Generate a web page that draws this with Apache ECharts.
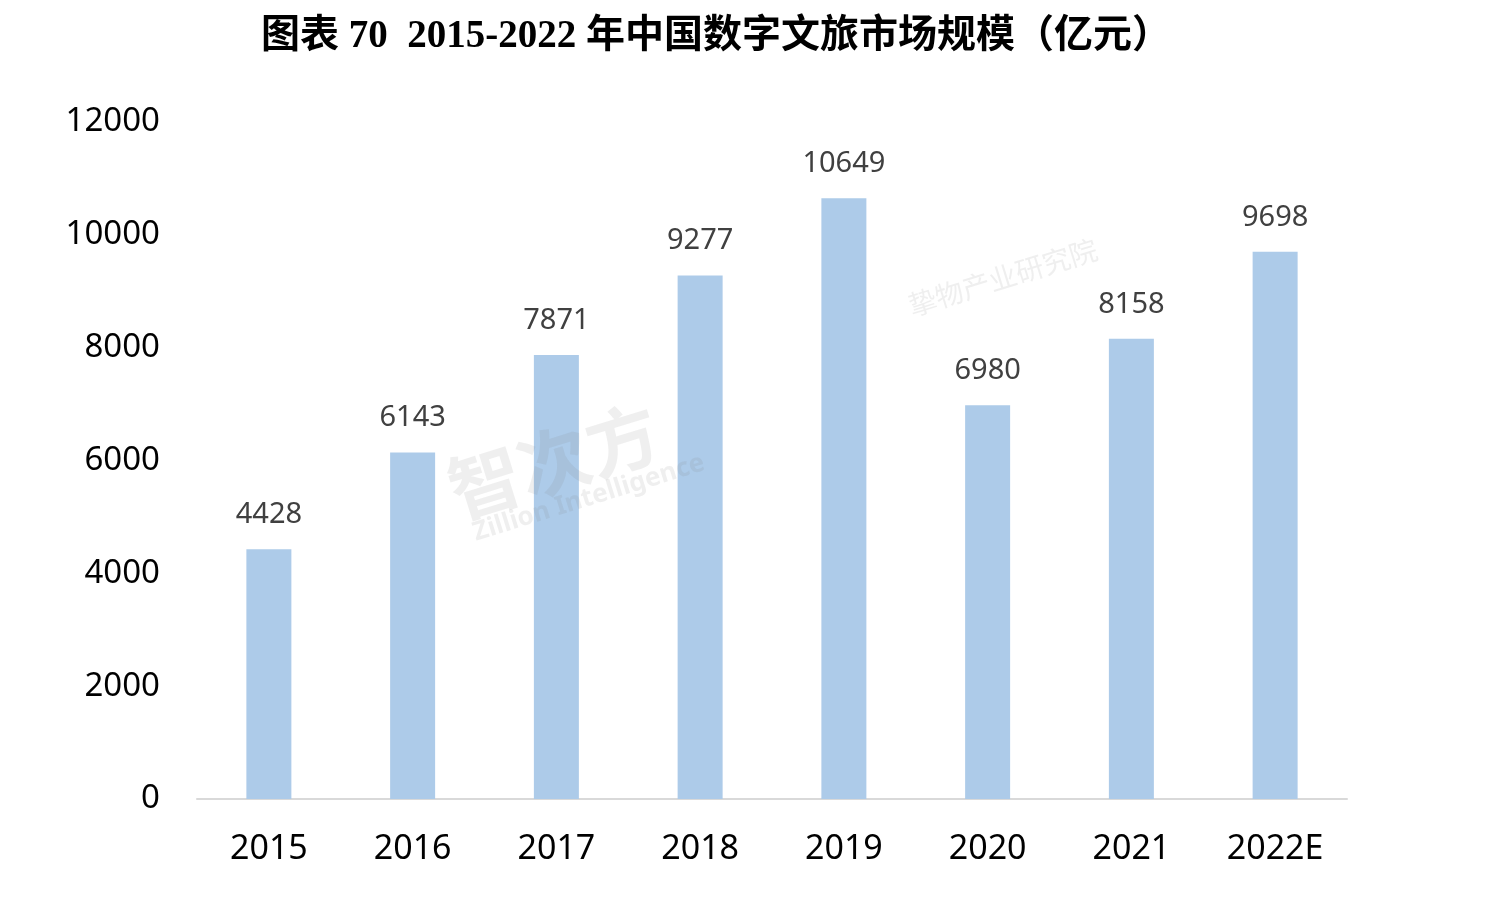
<!DOCTYPE html>
<html>
<head>
<meta charset="utf-8">
<script src="https://cdn.jsdelivr.net/npm/echarts@6/dist/echarts.min.js"></script>
<style>
html, body { margin: 0; padding: 0; background: #fff; }
#chart { width: 1502px; height: 912px; }
</style>
</head>
<body>
<div id="chart"></div>
<script>
// 年份与市场规模（亿元）
var years = ['2015', '2016', '2017', '2018', '2019', '2020', '2021', '2022E']
var marketSize = [4428, 6143, 7871, 9277, 10649, 6980, 8158, 9698]
var yTicks = { min: 0, max: 12000, interval: 2000 }

var myChart = echarts.init(document.getElementById('chart'))

myChart.setOption({
  backgroundColor: '#fff',
  animation: false,
  title: {
    text: '图表 70  2015-2022 年中国数字文旅市场规模（亿元）',
    left: 256,
    top: 12,
    textStyle: {
      fontFamily: '"Liberation Serif", "Noto Sans CJK SC"',
      fontWeight: 'bold',
      fontSize: 39,
      color: '#000'
    }
  },
  // 水印
  graphic: [
    {
      type: 'text', left: 440, top: 395, rotation: 0.3, z: 10,
      style: { text: '智次方', font: 'bold 72px "Noto Sans CJK SC"', fill: 'rgba(120,120,120,0.12)' }
    },
    {
      type: 'text', left: 470, top: 450, rotation: 0.3, z: 10,
      style: { text: 'Zillion Intelligence', font: 'bold 26px "Noto Sans"', fill: 'rgba(120,120,120,0.12)' }
    },
    {
      type: 'text', left: 905, top: 235, rotation: 0.3, z: 10,
      style: { text: '挚物产业研究院', font: '28px "Noto Sans CJK SC"', fill: 'rgba(120,120,120,0.12)' }
    }
  ],
  grid: {
    left: 197,
    right: 155,
    top: 122,
    bottom: 113,
    containLabel: false
  },
  xAxis: {
    type: 'category',
    data: years,
    axisLine: { lineStyle: { color: '#d9d9d9', width: 2 } },
    axisTick: { show: false },
    axisLabel: {
      color: '#000',
      fontSize: 34,
      fontFamily: '"Noto Sans"',
      margin: 33
    }
  },
  yAxis: {
    type: 'value',
    min: yTicks.min,
    max: yTicks.max,
    interval: yTicks.interval,
    axisLine: { show: false },
    axisTick: { show: false },
    splitLine: { show: false },
    axisLabel: {
      color: '#000',
      fontSize: 33,
      fontFamily: '"Noto Sans"',
      margin: 37,
      formatter: function (v) { return String(v) }
    }
  },
  series: [{
    type: 'bar',
    data: marketSize,
    barWidth: 45,
    itemStyle: { color: '#adcbe9' },
    label: {
      show: true,
      position: 'top',
      distance: 20,
      color: '#404040',
      fontSize: 29,
      fontFamily: '"Noto Sans"'
    }
  }]
})
</script>
</body>
</html>
